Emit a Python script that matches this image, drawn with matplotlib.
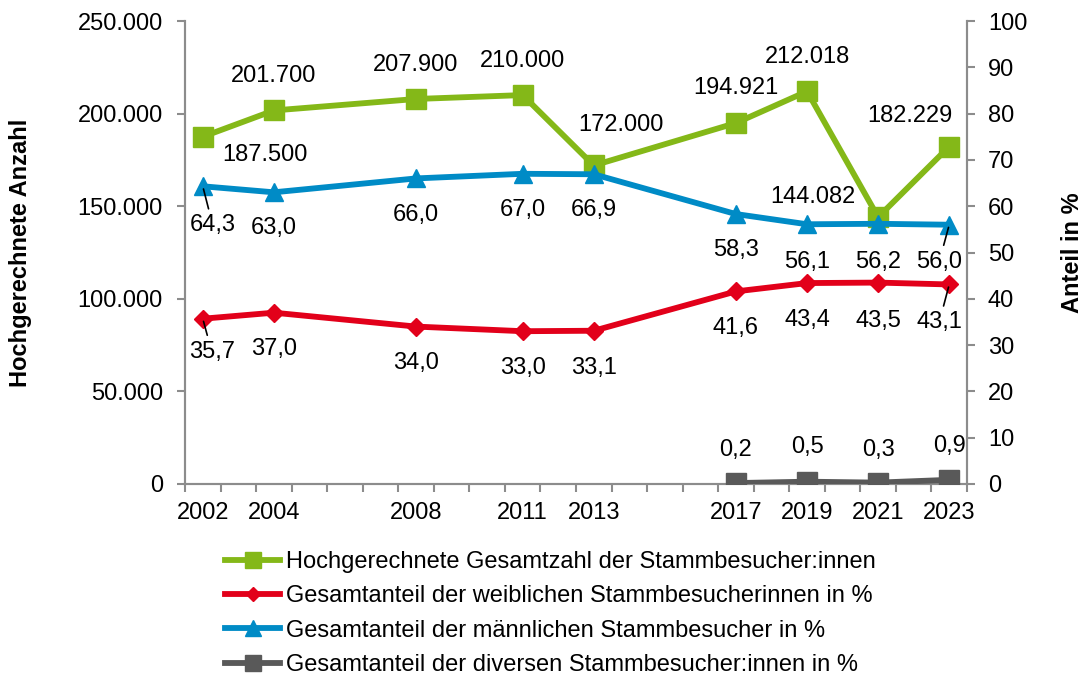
import numpy as np
import matplotlib
matplotlib.use('Agg')
import matplotlib.pyplot as plt
from matplotlib.lines import Line2D
from matplotlib.ticker import FuncFormatter

plt.rcParams['font.family'] = ['Liberation Sans', 'DejaVu Sans']

years = [2002, 2004, 2008, 2011, 2013, 2017, 2019, 2021, 2023]
total = [187500, 201700, 207900, 210000, 172000, 194921, 212018, 144082, 182229]
female = [35.7, 37.0, 34.0, 33.0, 33.1, 41.6, 43.4, 43.5, 43.1]
male = [64.3, 63.0, 66.0, 67.0, 66.9, 58.3, 56.1, 56.2, 56.0]
div_years = [2017, 2019, 2021, 2023]
diverse = [0.2, 0.5, 0.3, 0.9]

names = ['Hochgerechnete Gesamtzahl der Stammbesucher:innen',
         'Gesamtanteil der weiblichen Stammbesucherinnen in %',
         'Gesamtanteil der männlichen Stammbesucher in %',
         'Gesamtanteil der diversen Stammbesucher:innen in %']

GREEN = '#84b818'
RED = '#e2001a'
BLUE = '#008bc6'
GREY = '#595959'
AXC = '#8c8c8c'
FS = 17

# label offsets in pixels (dx, dy), leader flags
off_total = [(62, -18), (0, 34), (0, 34), (0, 34), (27, 40), (0, 35), (0, 34), (-65, 20), (-39, 31)]
off_male = [(10, -39), (0, -36), (0, -37), (0, -36), (0, -36), (0, -36), (0, -38), (0, -38), (-10, -37)]
off_female = [(9, -33), (0, -36), (0, -36), (0, -37), (0, -37), (0, -37), (0, -37), (0, -38), (-10, -38)]
off_div = [(0, 33), (0, 35), (0, 33), (0, 34)]
lead_male = [True, False, False, False, False, False, False, False, True]
lead_female = [True, False, False, False, False, False, False, False, True]

fig = plt.figure(figsize=(10.86, 6.75), dpi=100)
ax = fig.add_axes([185 / 1086, 1 - 484 / 675, 782 / 1086, 463 / 675])
ax2 = ax.twinx()

ax.plot(years, total, color=GREEN, lw=4.2, marker='s', ms=14, zorder=3)
ax2.plot(years, female, color=RED, lw=4.2, marker='D', ms=9, zorder=3)
ax2.plot(years, male, color=BLUE, lw=4.2, marker='^', ms=13, zorder=3)
ax2.plot(div_years, diverse, color=GREY, lw=4.2, marker='s', ms=14, zorder=3)


def label(axis, xs, ys, texts, offs, leads=None):
    for i, (x, y, t, o) in enumerate(zip(xs, ys, texts, offs)):
        kw = {}
        if leads is not None and leads[i]:
            kw['arrowprops'] = dict(arrowstyle='-', color='black', lw=1.2,
                                    shrinkA=2, shrinkB=2)
        axis.annotate(t, (x, y), xytext=o, textcoords='offset pixels',
                      ha='center', va='center', fontsize=FS, zorder=5, **kw)


label(ax, years, total, [f'{v:,}'.replace(',', '.') for v in total], off_total)
label(ax2, years, male, [f'{v:.1f}'.replace('.', ',') for v in male], off_male, lead_male)
label(ax2, years, female, [f'{v:.1f}'.replace('.', ',') for v in female], off_female, lead_female)
label(ax2, div_years, diverse, [f'{v:.1f}'.replace('.', ',') for v in diverse], off_div)

ax.set_xlim(2001.5, 2023.5)
ax.set_ylim(0, 250000)
ax2.set_ylim(0, 100)
ax.set_yticks(np.arange(0, 250001, 50000))
ax2.set_yticks(np.arange(0, 101, 10))
ax.yaxis.set_major_formatter(FuncFormatter(lambda v, p: f'{int(v):,}'.replace(',', '.')))

ax.set_xticks(years)
ax.set_xticks(np.arange(2001.5, 2024, 1), minor=True)
ax.tick_params(axis='x', which='major', length=0, pad=13, labelsize=FS)
ax.tick_params(axis='x', which='minor', length=6, width=1.5, color=AXC, direction='out')
ax.tick_params(axis='y', length=6, width=1.5, color=AXC, pad=10, labelsize=FS)
ax2.tick_params(axis='y', length=6, width=1.5, color=AXC, pad=9, labelsize=FS)

for a in (ax, ax2):
    a.spines['top'].set_visible(False)
    for s in ('left', 'right', 'bottom'):
        a.spines[s].set_color(AXC)
        a.spines[s].set_linewidth(1.5)

ax.set_ylabel('Hochgerechnete Anzahl', fontsize=FS, fontweight='bold')
ax.yaxis.set_label_coords(-0.196, 0.5)
ax2.set_ylabel('Anteil in %', fontsize=FS, fontweight='bold')
ax2.yaxis.set_label_coords(1.12, 0.5)

handles = [
    Line2D([], [], color=GREEN, lw=4.2, marker='s', ms=11),
    Line2D([], [], color=RED, lw=4.2, marker='D', ms=7),
    Line2D([], [], color=BLUE, lw=4.2, marker='^', ms=11),
    Line2D([], [], color=GREY, lw=4.2, marker='s', ms=11),
]
fig.legend(handles, names, loc='upper left', bbox_to_anchor=(225 / 1086, 1 - 551 / 675),
           frameon=False, fontsize=FS, handlelength=2.33, handletextpad=0.25,
           labelspacing=0.52, borderpad=0, borderaxespad=0)

fig.savefig('out.png', dpi=100)
